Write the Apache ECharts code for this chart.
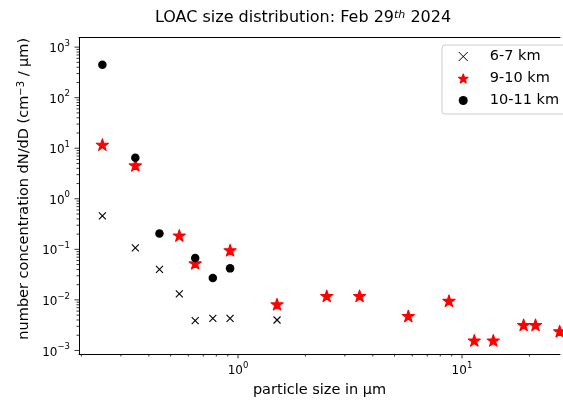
<!DOCTYPE html>
<html>
<head>
<meta charset="utf-8">
<script src="https://cdn.jsdelivr.net/npm/echarts@6/dist/echarts.min.js"></script>
<style>
    html, body { margin: 0; padding: 0; background: #fff; }
    #echarts-main { width: 563px; height: 403px; }
</style>
</head>
<body>
<div id="echarts-main"></div>
<script>
    // values (particle size in µm, dN/dD in cm^-3/µm)
    const size_6_7 = [0.248, 0.348, 0.446, 0.547, 0.644, 0.772, 0.922, 1.494]
    const conc_6_7 = [0.46, 0.107, 0.040, 0.0131, 0.0039, 0.0043, 0.0043, 0.0040]

    const size_9_10 = [0.248, 0.348, 0.547, 0.644, 0.922, 1.494, 2.49, 3.49, 5.76, 8.75, 11.35, 13.8, 18.85, 21.3, 27.3]
    const conc_9_10 = [11.8, 4.6, 0.188, 0.053, 0.096, 0.0082, 0.0120, 0.0120, 0.0048, 0.0096, 0.00158, 0.00158, 0.0032, 0.0032, 0.0024]

    const size_10_11 = [0.248, 0.348, 0.446, 0.644, 0.772, 0.922]
    const conc_10_11 = [450, 6.5, 0.206, 0.0675, 0.027, 0.042]

    const series_names = ['6-7 km', '9-10 km', '10-11 km']

    // axis ticks (matplotlib style log ticks)
    const x_major = [1, 10]
    const x_minor = [0.2, 0.3, 0.4, 0.5, 0.6, 0.7, 0.8, 0.9, 2, 3, 4, 5, 6, 7, 8, 9, 20]
    const y_major = [0.001, 0.01, 0.1, 1, 10, 100, 1000]
    const y_minor_mant = [2, 3, 4, 5, 6, 7, 8, 9]
    const y_minor_dec = [0.001, 0.01, 0.1, 1, 10, 100]

    const X_MIN = 0.195, X_MAX = 27.4
    const Y_MIN = 0.00085, Y_MAX = 1550

    const FONT = 'DejaVu Sans'

    const zip = (xs, ys) => xs.map((x, i) => [x, ys[i]])

    const y_minor = []
    for (const d of y_minor_dec) {
        for (const m of y_minor_mant) y_minor.push(+(m * d).toPrecision(3))
    }

    const x_tick_data = x_major.map(v => [v, 4.5]).concat(x_minor.map(v => [v, 2.5]))
    const y_tick_data = y_major.map(v => [4.5, v]).concat(y_minor.map(v => [2.5, v]))

    const STAR = 'path://M0,-1L0.2245,-0.309L0.951,-0.309L0.3633,0.118L0.5878,0.809L0,0.382L-0.5878,0.809L-0.3633,0.118L-0.951,-0.309L-0.2245,-0.309Z'
    const CROSS = 'path://M0,0L10,10M10,0L0,10'

    const pow_label = (value) => {
        const lg = Math.log10(value)
        const e = Math.round(lg)
        if (Math.abs(lg - e) > 1e-6) return ''
        const es = e < 0 ? '\u2212' + (-e) : '' + e
        return '{b|10}{s|' + es + '}'
    }

    const label_rich = {
        b: { fontFamily: FONT, fontSize: 12, color: '#000', lineHeight: 16, verticalAlign: 'bottom' },
        s: { fontFamily: FONT, fontSize: 8.5, color: '#000', lineHeight: 10, verticalAlign: 'top' }
    }

    let myChart = echarts.init(document.getElementById('echarts-main'))

    const option = {
        animation: false,
        graphic: [
            {
                type: 'text',
                x: 303,
                y: 18,
                style: {
                    text: 'LOAC size distribution: Feb 29{s|th} 2024',
                    fontFamily: FONT,
                    fontSize: 16,
                    fill: '#000',
                    align: 'center',
                    verticalAlign: 'middle',
                    rich: {
                        s: { fontFamily: FONT, fontSize: 11, fontStyle: 'italic', verticalAlign: 'top', lineHeight: 12 }
                    }
                }
            }
        ],
        grid: {
            left: 79,
            top: 37.5,
            right: 0,
            bottom: 45.7,
            show: false
        },
        legend: {
            orient: 'vertical',
            left: 442,
            top: 45,
            padding: [3, 30, 5, 16],
            itemWidth: 9,
            itemHeight: 9,
            itemGap: 5,
            backgroundColor: 'rgba(255,255,255,0.8)',
            borderColor: '#cccccc',
            borderWidth: 1,
            borderRadius: 3,
            selectedMode: false,
            textStyle: { fontFamily: FONT, fontSize: 14.5, color: '#000', lineHeight: 17, padding: [0, 0, 0, 17] },
            data: [
                { name: series_names[0], icon: CROSS, itemStyle: { color: '#000', borderColor: '#000', borderWidth: 1 } },
                { name: series_names[1], icon: STAR, itemStyle: { color: '#ff0000', borderColor: '#ff0000', borderWidth: 1.5 } },
                { name: series_names[2], icon: 'circle', itemStyle: { color: '#000', borderWidth: 0 } }
            ]
        },
        xAxis: [
            {
                type: 'log',
                min: X_MIN,
                max: X_MAX,
                name: 'particle size in µm',
                nameLocation: 'middle',
                nameGap: 29,
                nameTextStyle: { fontFamily: FONT, fontSize: 14.5, color: '#000' },
                axisLine: { lineStyle: { color: '#000', width: 1 } },
                axisTick: { show: false },
                splitLine: { show: false },
                axisLabel: { margin: 7, formatter: pow_label, rich: label_rich }
            },
            {
                // top spine only
                type: 'log',
                position: 'top',
                min: X_MIN,
                max: X_MAX,
                axisLine: { lineStyle: { color: '#000', width: 1 } },
                axisTick: { show: false },
                axisLabel: { show: false },
                splitLine: { show: false }
            }
        ],
        yAxis: {
            type: 'log',
            min: Y_MIN,
            max: Y_MAX,
            name: 'number concentration dN/dD (cm{s|\u22123} / µm)',
            nameLocation: 'middle',
            nameGap: 47,
            nameTextStyle: {
                fontFamily: FONT, fontSize: 14.5, color: '#000', padding: [0, 0, 0, 14],
                rich: { s: { fontFamily: FONT, fontSize: 10, verticalAlign: 'top', lineHeight: 11 } }
            },
            axisLine: { lineStyle: { color: '#000', width: 1 } },
            axisTick: { show: false },
            splitLine: { show: false },
            axisLabel: { margin: 9, formatter: pow_label, rich: label_rich }
        },
        series: [
            {
                name: series_names[0],
                type: 'scatter',
                data: zip(size_6_7, conc_6_7),
                symbol: CROSS,
                symbolSize: 7,
                itemStyle: { color: '#000', borderColor: '#000', borderWidth: 1.1, opacity: 1 },
                z: 3
            },
            {
                name: series_names[1],
                type: 'scatter',
                data: zip(size_9_10, conc_9_10),
                symbol: STAR,
                symbolSize: [12, 11.5],
                itemStyle: { color: '#ff0000', borderColor: '#ff0000', borderWidth: 1.2, borderJoin: 'round', opacity: 1 },
                z: 4
            },
            {
                name: series_names[2],
                type: 'scatter',
                data: zip(size_10_11, conc_10_11),
                symbol: 'circle',
                symbolSize: 8.5,
                itemStyle: { color: '#000', opacity: 1 },
                z: 5
            },
            {
                // x axis ticks, drawn outward below the bottom spine
                type: 'custom',
                silent: true,
                data: x_tick_data,
                renderItem: (params, api) => {
                    const px = api.coord([api.value(0), Y_MIN])[0]
                    const bottom = params.coordSys.y + params.coordSys.height
                    return {
                        type: 'line',
                        shape: { x1: px, y1: bottom, x2: px, y2: bottom + api.value(1) },
                        style: { stroke: '#000', lineWidth: 0.8 }
                    }
                }
            },
            {
                // y axis ticks, drawn outward left of the left spine
                type: 'custom',
                silent: true,
                data: y_tick_data,
                encode: { x: 0, y: 1 },
                renderItem: (params, api) => {
                    const py = api.coord([X_MIN, api.value(1)])[1]
                    const left = params.coordSys.x
                    return {
                        type: 'line',
                        shape: { x1: left - api.value(0), y1: py, x2: left, y2: py },
                        style: { stroke: '#000', lineWidth: 0.8 }
                    }
                }
            }
        ]
    }

    myChart.setOption(option)
</script>
</body>
</html>
